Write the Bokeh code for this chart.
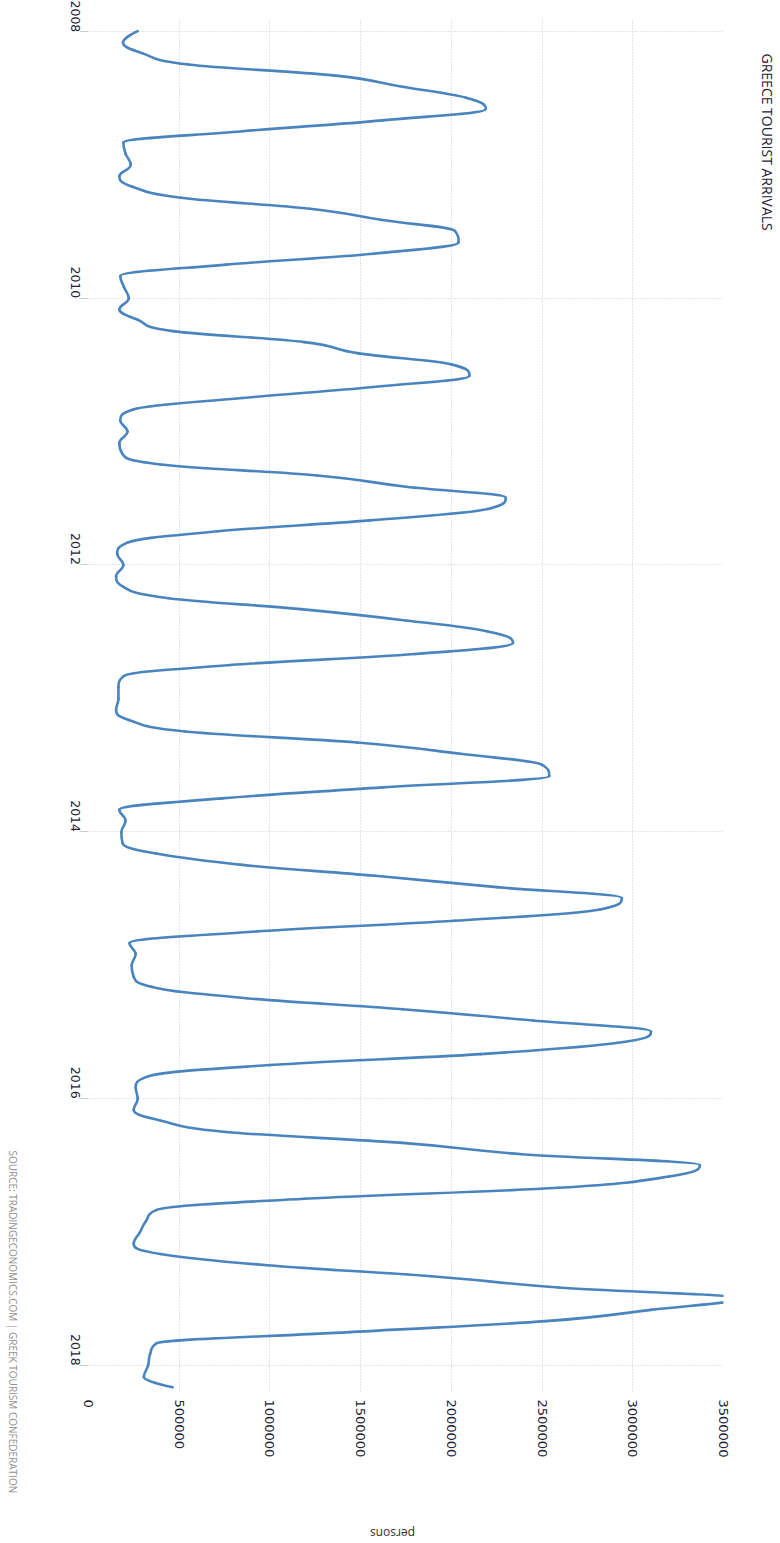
import math
import numpy as np
import pandas as pd
from bokeh.plotting import figure
from bokeh.layouts import row, column
from bokeh.models import (Range1d, FixedTicker, NumeralTickFormatter,
                          DatetimeTickFormatter, Label, ColumnDataSource)
from bokeh.embed import file_html
from bokeh.resources import INLINE

# ---------------- data ----------------
TITLE = "GREECE TOURIST ARRIVALS"
SOURCE = "SOURCE: TRADINGECONOMICS.COM  |  GREEK TOURISM CONFEDERATION"
UNIT = "persons"

FIRST_MONTH = "2008-01-01"
arrivals_2008 = [271000, 190000, 295000, 550000, 1350000, 1730000, 2080000, 2190000, 1620000, 848000, 192000, 204000]
arrivals_2009 = [233000, 170000, 238000, 509000, 1220000, 1620000, 2020000, 2040000, 1570000, 760000, 175000, 195000]
arrivals_2010 = [222000, 170000, 271000, 464000, 1190000, 1490000, 2000000, 2100000, 1570000, 848000, 250000, 175000]
arrivals_2011 = [215000, 170000, 185000, 396000, 1260000, 1750000, 2300000, 2200000, 1550000, 713000, 215000, 158000]
arrivals_2012 = [192000, 152000, 192000, 441000, 1170000, 1750000, 2200000, 2340000, 1800000, 780000, 192000, 165000]
arrivals_2013 = [165000, 152000, 226000, 532000, 1480000, 2050000, 2500000, 2540000, 1620000, 735000, 170000, 204000]
arrivals_2014 = [181000, 188000, 373000, 848000, 1580000, 2250000, 2940000, 2820000, 2020000, 905000, 226000, 260000]
arrivals_2015 = [238000, 249000, 350000, 871000, 1730000, 2450000, 3100000, 2920000, 2160000, 1000000, 328000, 260000]
arrivals_2016 = [271000, 249000, 396000, 758000, 1730000, 2390000, 3370000, 3200000, 2590000, 1190000, 373000, 317000]
arrivals_2017 = [283000, 249000, 396000, 984000, 1890000, 2590000, 3580000, 3100000, 2520000, 1440000, 373000, 339000]
arrivals_2018 = [328000, 305000, 464000]

YEAR_TICKS = [2008, 2010, 2012, 2014, 2016, 2018]
VALUE_TICKS = [0, 500000, 1000000, 1500000, 2000000, 2500000, 3000000, 3500000]
VALUE_MIN, VALUE_MAX = 0, 3500000
DATE_MIN, DATE_MAX = "2007-11-30", "2018-03-18"

values = np.array(arrivals_2008 + arrivals_2009 + arrivals_2010 + arrivals_2011 +
                  arrivals_2012 + arrivals_2013 + arrivals_2014 + arrivals_2015 +
                  arrivals_2016 + arrivals_2017 + arrivals_2018, dtype=float)
dates = pd.date_range(FIRST_MONTH, periods=len(values), freq="MS")


def ms(d):
    return pd.Timestamp(d).timestamp() * 1000.0


t = np.array([ms(d) for d in dates])
v = values

# spline rendering (smooth curve through the monthly points, drawn with Bezier glyphs)
n = len(v)
lt, lv, rt, rv = t.copy(), v.copy(), t.copy(), v.copy()
sm = 1.5
den = sm + 1
for i in range(1, n - 1):
    a_t = (sm * t[i] + t[i - 1]) / den
    a_v = (sm * v[i] + v[i - 1]) / den
    b_t = (sm * t[i] + t[i + 1]) / den
    b_v = (sm * v[i] + v[i + 1]) / den
    corr = (b_v - a_v) * (b_t - t[i]) / (b_t - a_t) + v[i] - b_v
    a_v += corr
    b_v += corr
    if a_v > v[i - 1] and a_v > v[i]:
        a_v = max(v[i - 1], v[i]); b_v = 2 * v[i] - a_v
    elif a_v < v[i - 1] and a_v < v[i]:
        a_v = min(v[i - 1], v[i]); b_v = 2 * v[i] - a_v
    if b_v > v[i + 1] and b_v > v[i]:
        b_v = max(v[i + 1], v[i]); a_v = 2 * v[i] - b_v
    elif b_v < v[i + 1] and b_v < v[i]:
        b_v = min(v[i + 1], v[i]); a_v = 2 * v[i] - b_v
    lt[i], lv[i], rt[i], rv[i] = a_t, a_v, b_t, b_v

seg = ColumnDataSource(dict(
    x0=v[:-1], y0=t[:-1], x1=v[1:], y1=t[1:],
    cx0=rv[:-1], cy0=rt[:-1], cx1=lv[1:], cy1=lt[1:],
))

TEXT_DARK = "#222233"

# ---------------- main chart ----------------
p = figure(width=703, height=1470, title=None,
           x_range=Range1d(VALUE_MIN, VALUE_MAX),
           y_range=Range1d(start=ms(DATE_MAX), end=ms(DATE_MIN)),
           y_axis_type="datetime",
           output_backend="svg", toolbar_location=None,
           min_border_left=58, min_border_right=10,
           min_border_top=19, min_border_bottom=77)
p.outline_line_color = None
p.background_fill_color = "white"
p.border_fill_color = "white"

p.bezier(x0="x0", y0="y0", x1="x1", y1="y1", cx0="cx0", cy0="cy0",
         cx1="cx1", cy1="cy1", source=seg, line_color="#4a84bf",
         line_width=2.6, line_cap="round")

# value axis (bottom)
xa = p.xaxis[0]
xa.ticker = FixedTicker(ticks=VALUE_TICKS)
xa.formatter = NumeralTickFormatter(format="0")
xa.major_label_orientation = -math.pi / 2
xa.axis_line_color = None
xa.major_tick_line_color = None
xa.major_tick_out = 0
xa.major_tick_in = 0
xa.minor_tick_line_color = None
xa.major_label_standoff = 6
xa.major_label_text_font = "DejaVu Sans"
xa.major_label_text_font_size = "13px"
xa.major_label_text_color = TEXT_DARK

# time axis (left)
ya = p.yaxis[0]
ya.ticker = FixedTicker(ticks=[ms(f"{y}-01-01") for y in YEAR_TICKS])
ya.formatter = DatetimeTickFormatter(years="%Y", months="%Y", days="%Y",
                                     hours="%Y", minutes="%Y", seconds="%Y")
ya.major_label_orientation = -math.pi / 2
ya.axis_line_color = None
ya.major_tick_line_color = "#cccccc"
ya.major_tick_out = 9
ya.major_tick_in = 0
ya.minor_tick_line_color = None
ya.major_label_standoff = 4
ya.major_label_text_font = "DejaVu Sans"
ya.major_label_text_font_size = "12.5px"
ya.major_label_text_color = TEXT_DARK

for g in (p.xgrid[0], p.ygrid[0]):
    g.grid_line_color = "#c8c8c8"
    g.grid_line_dash = "1 2"
    g.grid_line_width = 1


# ---------------- text strips around the chart ----------------
def strip(w, h):
    f = figure(width=w, height=h, title=None, x_range=Range1d(0, 1),
               y_range=Range1d(0, 1), x_axis_location=None, y_axis_location=None,
               toolbar_location=None, output_backend="svg", min_border=0)
    f.outline_line_color = None
    f.background_fill_color = "white"
    f.border_fill_color = "white"
    f.xgrid.visible = False
    f.ygrid.visible = False
    return f


left = strip(30, 1543)
left.add_layout(Label(x=12.5, y=393, x_units="screen", y_units="screen",
                      text=SOURCE, angle=-math.pi / 2, text_align="left",
                      text_baseline="middle", text_font="Open Sans",
                      text_font_size="10px", text_color="#8f8f8f"))

right = strip(47, 1543)
right.add_layout(Label(x=34, y=1490, x_units="screen", y_units="screen",
                       text=TITLE, angle=-math.pi / 2, text_align="left",
                       text_baseline="middle", text_font="Open Sans",
                       text_font_size="14px", text_color=TEXT_DARK))

bottom = strip(703, 73)
bottom.add_layout(Label(x=304, y=10, x_units="screen", y_units="screen",
                        text=UNIT, angle=math.pi, text_align="center",
                        text_baseline="middle", text_font="Open Sans",
                        text_font_size="12px", text_color="#333333"))

layout = row(left, column(p, bottom, spacing=0), right, spacing=0)

open("out.html", "w").write(file_html(layout, INLINE))
